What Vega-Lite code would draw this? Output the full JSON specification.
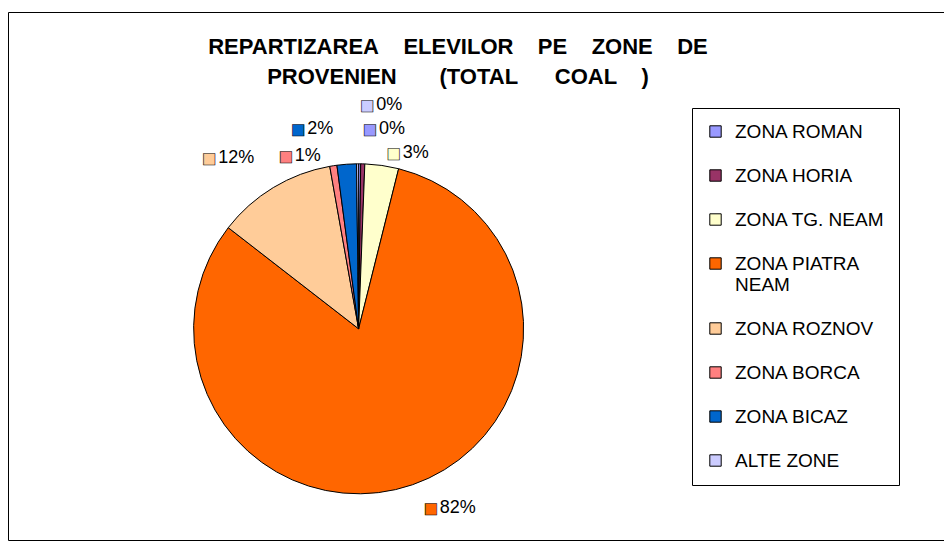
{
  "$schema": "https://vega.github.io/schema/vega-lite/v6.json",
  "width": 940,
  "height": 528,
  "autosize": {"type": "none"},
  "padding": {"left": 8, "top": 12, "right": 0, "bottom": 3},
  "background": "white",
  "view": {"stroke": "black", "strokeWidth": 1, "fill": "white"},
  "config": {
    "view": {"stroke": "black", "strokeWidth": 1},
    "font": "Liberation Sans"
  },
  "title": {
    "text": ["REPARTIZAREA\u00a0\u00a0\u00a0\u00a0ELEVILOR\u00a0\u00a0\u00a0\u00a0PE\u00a0\u00a0\u00a0\u00a0ZONE\u00a0\u00a0\u00a0\u00a0DE", "PROVENIEN\u00a0\u00a0\u00a0\u00a0\u00a0\u00a0\u00a0(TOTAL\u00a0\u00a0\u00a0\u00a0\u00a0\u00a0COAL\u00a0\u00a0\u00a0\u00a0)"],
    "font": "Liberation Sans",
    "fontSize": 22,
    "fontWeight": "bold",
    "color": "black",
    "anchor": "middle",
    "orient": "top",
    "baseline": "top",
    "offset": -30,
    "dy": 47,
    "dx": -20,
    "lineHeight": 30
  },
  "data": {
    "values": [
      {"zone": "ZONA ROMAN", "order": 1, "value": 0.002},
      {"zone": "ZONA HORIA", "order": 2, "value": 0.004},
      {"zone": "ZONA TG. NEAM", "order": 3, "value": 0.033},
      {"zone": "ZONA PIATRA NEAM", "order": 4, "value": 0.816},
      {"zone": "ZONA ROZNOV", "order": 5, "value": 0.117},
      {"zone": "ZONA BORCA", "order": 6, "value": 0.007},
      {"zone": "ZONA BICAZ", "order": 7, "value": 0.019},
      {"zone": "ALTE ZONE", "order": 8, "value": 0.002}
    ]
  },
  "encoding": {
    "theta": {"field": "value", "type": "quantitative", "stack": true},
    "order": {"field": "order", "type": "quantitative"}
  },
  "layer": [
    {
      "mark": {"type": "arc", "outerRadius": 165, "stroke": "black", "strokeWidth": 1, "x": {"expr": "width*0.373"}, "y": {"expr": "height*0.6"}},
      "encoding": {
        "color": {
          "field": "zone",
          "type": "nominal",
          "scale": {
            "domain": ["ZONA ROMAN", "ZONA HORIA", "ZONA TG. NEAM", "ZONA PIATRA NEAM", "ZONA ROZNOV", "ZONA BORCA", "ZONA BICAZ", "ALTE ZONE"],
            "range": ["#9999FF", "#993366", "#FFFFCC", "#FF6600", "#FFCC99", "#FF8080", "#0066CC", "#CCCCFF"]
          },
          "legend": {
            "title": null,
            "orient": "none",
            "legendX": 684,
            "legendY": 96,
            "strokeColor": "black",
            "fillColor": "white",
            "padding": 14,
            "symbolType": "square",
            "symbolSize": 130,
            "symbolStrokeColor": "black",
            "symbolStrokeWidth": 1,
            "labelFont": "Liberation Sans",
            "labelFontSize": 19,
            "labelColor": "black",
            "labelLimit": 400,
            "labelOffset": 10,
            "rowPadding": 24,
            "labelExpr": "datum.label == 'ZONA PIATRA NEAM' ? ['ZONA PIATRA', 'NEAM'] : datum.label"
          }
        }
      }
    },
    {
      "mark": {"type": "text", "font": "DejaVu Sans", "fontSize": 15, "align": "center", "baseline": "middle", "stroke": "black", "strokeWidth": 0.6, "dx": 10, "x": {"expr": "width*0.373"}, "y": {"expr": "height*0.6"},
        "radius": {"expr": "datum.zone == 'ALTE ZONE' ? 224 : (datum.zone == 'ZONA ROMAN' || datum.zone == 'ZONA BICAZ' || datum.zone == 'ZONA ROZNOV') ? 200 : datum.zone == 'ZONA PIATRA NEAM' ? 190 : datum.zone == 'ZONA BORCA' ? 175 : 178"}},
      "encoding": {
        "color": {"field": "zone", "type": "nominal"},
        "text": {"condition": {"test": "indexof(['ZONA ROMAN','ZONA TG. NEAM','ZONA PIATRA NEAM','ALTE ZONE'], datum.zone) >= 0", "value": "■"}, "value": ""}
      }
    },
    {
      "mark": {"type": "text", "font": "Liberation Sans", "fontSize": 18, "align": "left", "baseline": "middle", "color": "black", "dx": 19, "x": {"expr": "width*0.373"}, "y": {"expr": "height*0.6"},
        "radius": {"expr": "datum.zone == 'ALTE ZONE' ? 224 : (datum.zone == 'ZONA ROMAN' || datum.zone == 'ZONA BICAZ' || datum.zone == 'ZONA ROZNOV') ? 200 : datum.zone == 'ZONA PIATRA NEAM' ? 190 : datum.zone == 'ZONA BORCA' ? 175 : 178"}},
      "encoding": {
        "text": {"condition": {"test": "indexof(['ZONA ROMAN','ZONA TG. NEAM','ZONA PIATRA NEAM','ALTE ZONE'], datum.zone) >= 0", "field": "value", "type": "quantitative", "format": ".0%"}, "value": ""}
      }
    },
    {
      "mark": {"type": "text", "font": "DejaVu Sans", "fontSize": 15, "align": "center", "baseline": "middle", "stroke": "black", "strokeWidth": 0.6, "dx": -46, "x": {"expr": "width*0.373"}, "y": {"expr": "height*0.6"},
        "radius": {"expr": "datum.zone == 'ALTE ZONE' ? 224 : (datum.zone == 'ZONA ROMAN' || datum.zone == 'ZONA BICAZ' || datum.zone == 'ZONA ROZNOV') ? 200 : datum.zone == 'ZONA PIATRA NEAM' ? 190 : datum.zone == 'ZONA BORCA' ? 175 : 178"}},
      "encoding": {
        "color": {"field": "zone", "type": "nominal"},
        "text": {"condition": {"test": "indexof(['ZONA ROZNOV','ZONA BORCA','ZONA BICAZ'], datum.zone) >= 0", "value": "■"}, "value": ""}
      }
    },
    {
      "mark": {"type": "text", "font": "Liberation Sans", "fontSize": 18, "align": "left", "baseline": "middle", "color": "black", "dx": -37, "x": {"expr": "width*0.373"}, "y": {"expr": "height*0.6"},
        "radius": {"expr": "datum.zone == 'ALTE ZONE' ? 224 : (datum.zone == 'ZONA ROMAN' || datum.zone == 'ZONA BICAZ' || datum.zone == 'ZONA ROZNOV') ? 200 : datum.zone == 'ZONA PIATRA NEAM' ? 190 : datum.zone == 'ZONA BORCA' ? 175 : 178"}},
      "encoding": {
        "text": {"condition": {"test": "indexof(['ZONA ROZNOV','ZONA BORCA','ZONA BICAZ'], datum.zone) >= 0", "field": "value", "type": "quantitative", "format": ".0%"}, "value": ""}
      }
    }
  ]
}
